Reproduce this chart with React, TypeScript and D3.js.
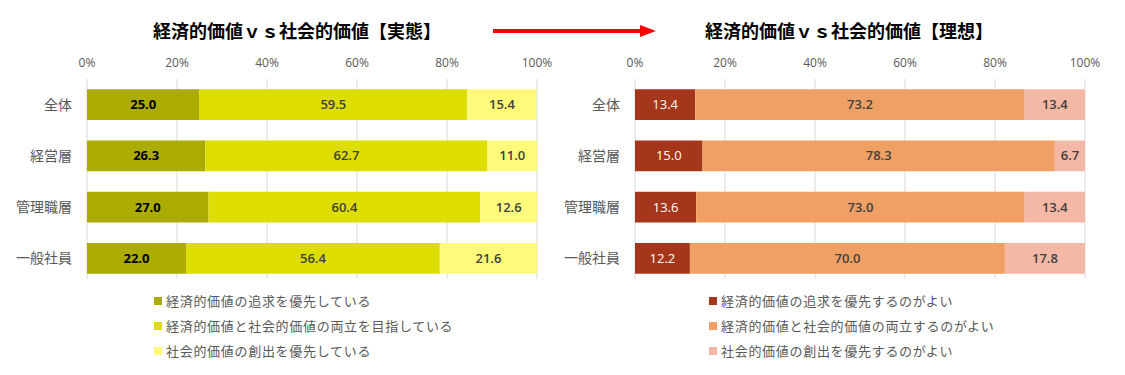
import React from "react";
import * as d3 from "d3";

const categories = ["全体", "経営層", "管理職層", "一般社員"];

const actualEconomic = [25.0, 26.3, 27.0, 22.0];
const actualBoth = [59.5, 62.7, 60.4, 56.4];
const actualSocial = [15.4, 11.0, 12.6, 21.6];

const idealEconomic = [13.4, 15.0, 13.6, 12.2];
const idealBoth = [73.2, 78.3, 73.0, 70.0];
const idealSocial = [13.4, 6.7, 13.4, 17.8];

const tickValues = [0, 20, 40, 60, 80, 100];

const actualLegend = [
  "経済的価値の追求を優先している",
  "経済的価値と社会的価値の両立を目指している",
  "社会的価値の創出を優先している",
];
const idealLegend = [
  "経済的価値の追求を優先するのがよい",
  "経済的価値と社会的価値の両立するのがよい",
  "社会的価値の創出を優先するのがよい",
];

const actualColors = ["#ABAB00", "#DDDD00", "#FFFA7A"];
const idealColors = ["#A5361B", "#F0A065", "#F4B9A6"];
const actualLabelColors = ["#000000", "#404040", "#404040"];
const idealLabelColors = ["#FFFFFF", "#404040", "#404040"];

const FONT = "'Noto Sans CJK JP', 'Noto Sans', sans-serif";
const NUMFONT = "'Open Sans', 'Noto Sans', sans-serif";

type PanelProps = {
  x0: number;
  x1: number;
  title: string;
  titleX: number;
  series: number[][];
  colors: string[];
  labelColors: string[];
  legend: string[];
  legendX: number;
};

function Panel({ x0, x1, title, titleX, series, colors, labelColors, legend, legendX }: PanelProps) {
  const x = d3.scaleLinear().domain([0, 100]).range([x0, x1]);
  const y = d3.scaleBand().domain(categories).range([79, 284]).paddingInner(0.4).paddingOuter(0.2);
  const stacked = categories.map((c, i) => {
    let acc = 0;
    return series.map((s) => {
      const start = acc;
      acc += s[i];
      return { start, end: acc, v: s[i] };
    });
  });
  const weightFor = (col: string) => (col === "#000000" ? 700 : col === "#FFFFFF" ? 400 : 600);
  return (
    <g>
      <text x={titleX} y={38} textAnchor="middle" fontFamily={FONT} fontWeight="bold" fontSize={18} fill="#000">
        {title}
      </text>
      {tickValues.map((t) => (
        <g key={t}>
          <line x1={x(t)} x2={x(t)} y1={79} y2={279} stroke="#D9D9D9" strokeWidth={1} />
          <text x={x(t)} y={67} textAnchor="middle" fontFamily={NUMFONT} fontSize={12} fill="#595959">
            {t}%
          </text>
        </g>
      ))}
      {categories.map((c, i) => (
        <g key={c}>
          <text
            x={x0 - 15}
            y={(y(c) as number) + y.bandwidth() / 2 + 5}
            textAnchor="end"
            fontFamily={FONT}
            fontSize={14}
            fill="#595959"
          >
            {c}
          </text>
          {stacked[i].map((seg, j) => (
            <g key={j}>
              <rect
                x={x(seg.start)}
                y={y(c) as number}
                width={x(seg.end) - x(seg.start)}
                height={y.bandwidth()}
                fill={colors[j]}
              />
              <text
                x={(x(seg.start) + x(seg.end)) / 2}
                y={(y(c) as number) + y.bandwidth() / 2 + 4.5}
                textAnchor="middle"
                fontFamily={NUMFONT}
                fontWeight={weightFor(labelColors[j])}
                fontSize={13}
                fill={labelColors[j]}
              >
                {seg.v.toFixed(1)}
              </text>
            </g>
          ))}
        </g>
      ))}
      {legend.map((l, k) => (
        <g key={l}>
          <rect x={legendX} y={297 + k * 25} width={8} height={8} fill={colors[k]} />
          <text
            x={legendX + 12}
            y={306 + k * 25}
            fontFamily={FONT}
            fontSize={13}
            letterSpacing={0.7}
            fill="#595959"
          >
            {l}
          </text>
        </g>
      ))}
    </g>
  );
}

export default function App() {
  return (
    <svg width={1125} height={375} style={{ position: "absolute", left: 0, top: 0, background: "#fff" }}>
      <rect x={0} y={0} width={1125} height={375} fill="#fff" />
      <Panel
        x0={87}
        x1={537}
        title="経済的価値ｖｓ社会的価値【実態】"
        titleX={297}
        series={[actualEconomic, actualBoth, actualSocial]}
        colors={actualColors}
        labelColors={actualLabelColors}
        legend={actualLegend}
        legendX={154}
      />
      <Panel
        x0={635}
        x1={1085}
        title="経済的価値ｖｓ社会的価値【理想】"
        titleX={849}
        series={[idealEconomic, idealBoth, idealSocial]}
        colors={idealColors}
        labelColors={idealLabelColors}
        legend={idealLegend}
        legendX={709}
      />
      <line x1={493} x2={642} y1={31} y2={31} stroke="#FF0000" strokeWidth={4} />
      <path d="M640,25 L656,31 L640,37 Z" fill="#FF0000" />
    </svg>
  );
}
